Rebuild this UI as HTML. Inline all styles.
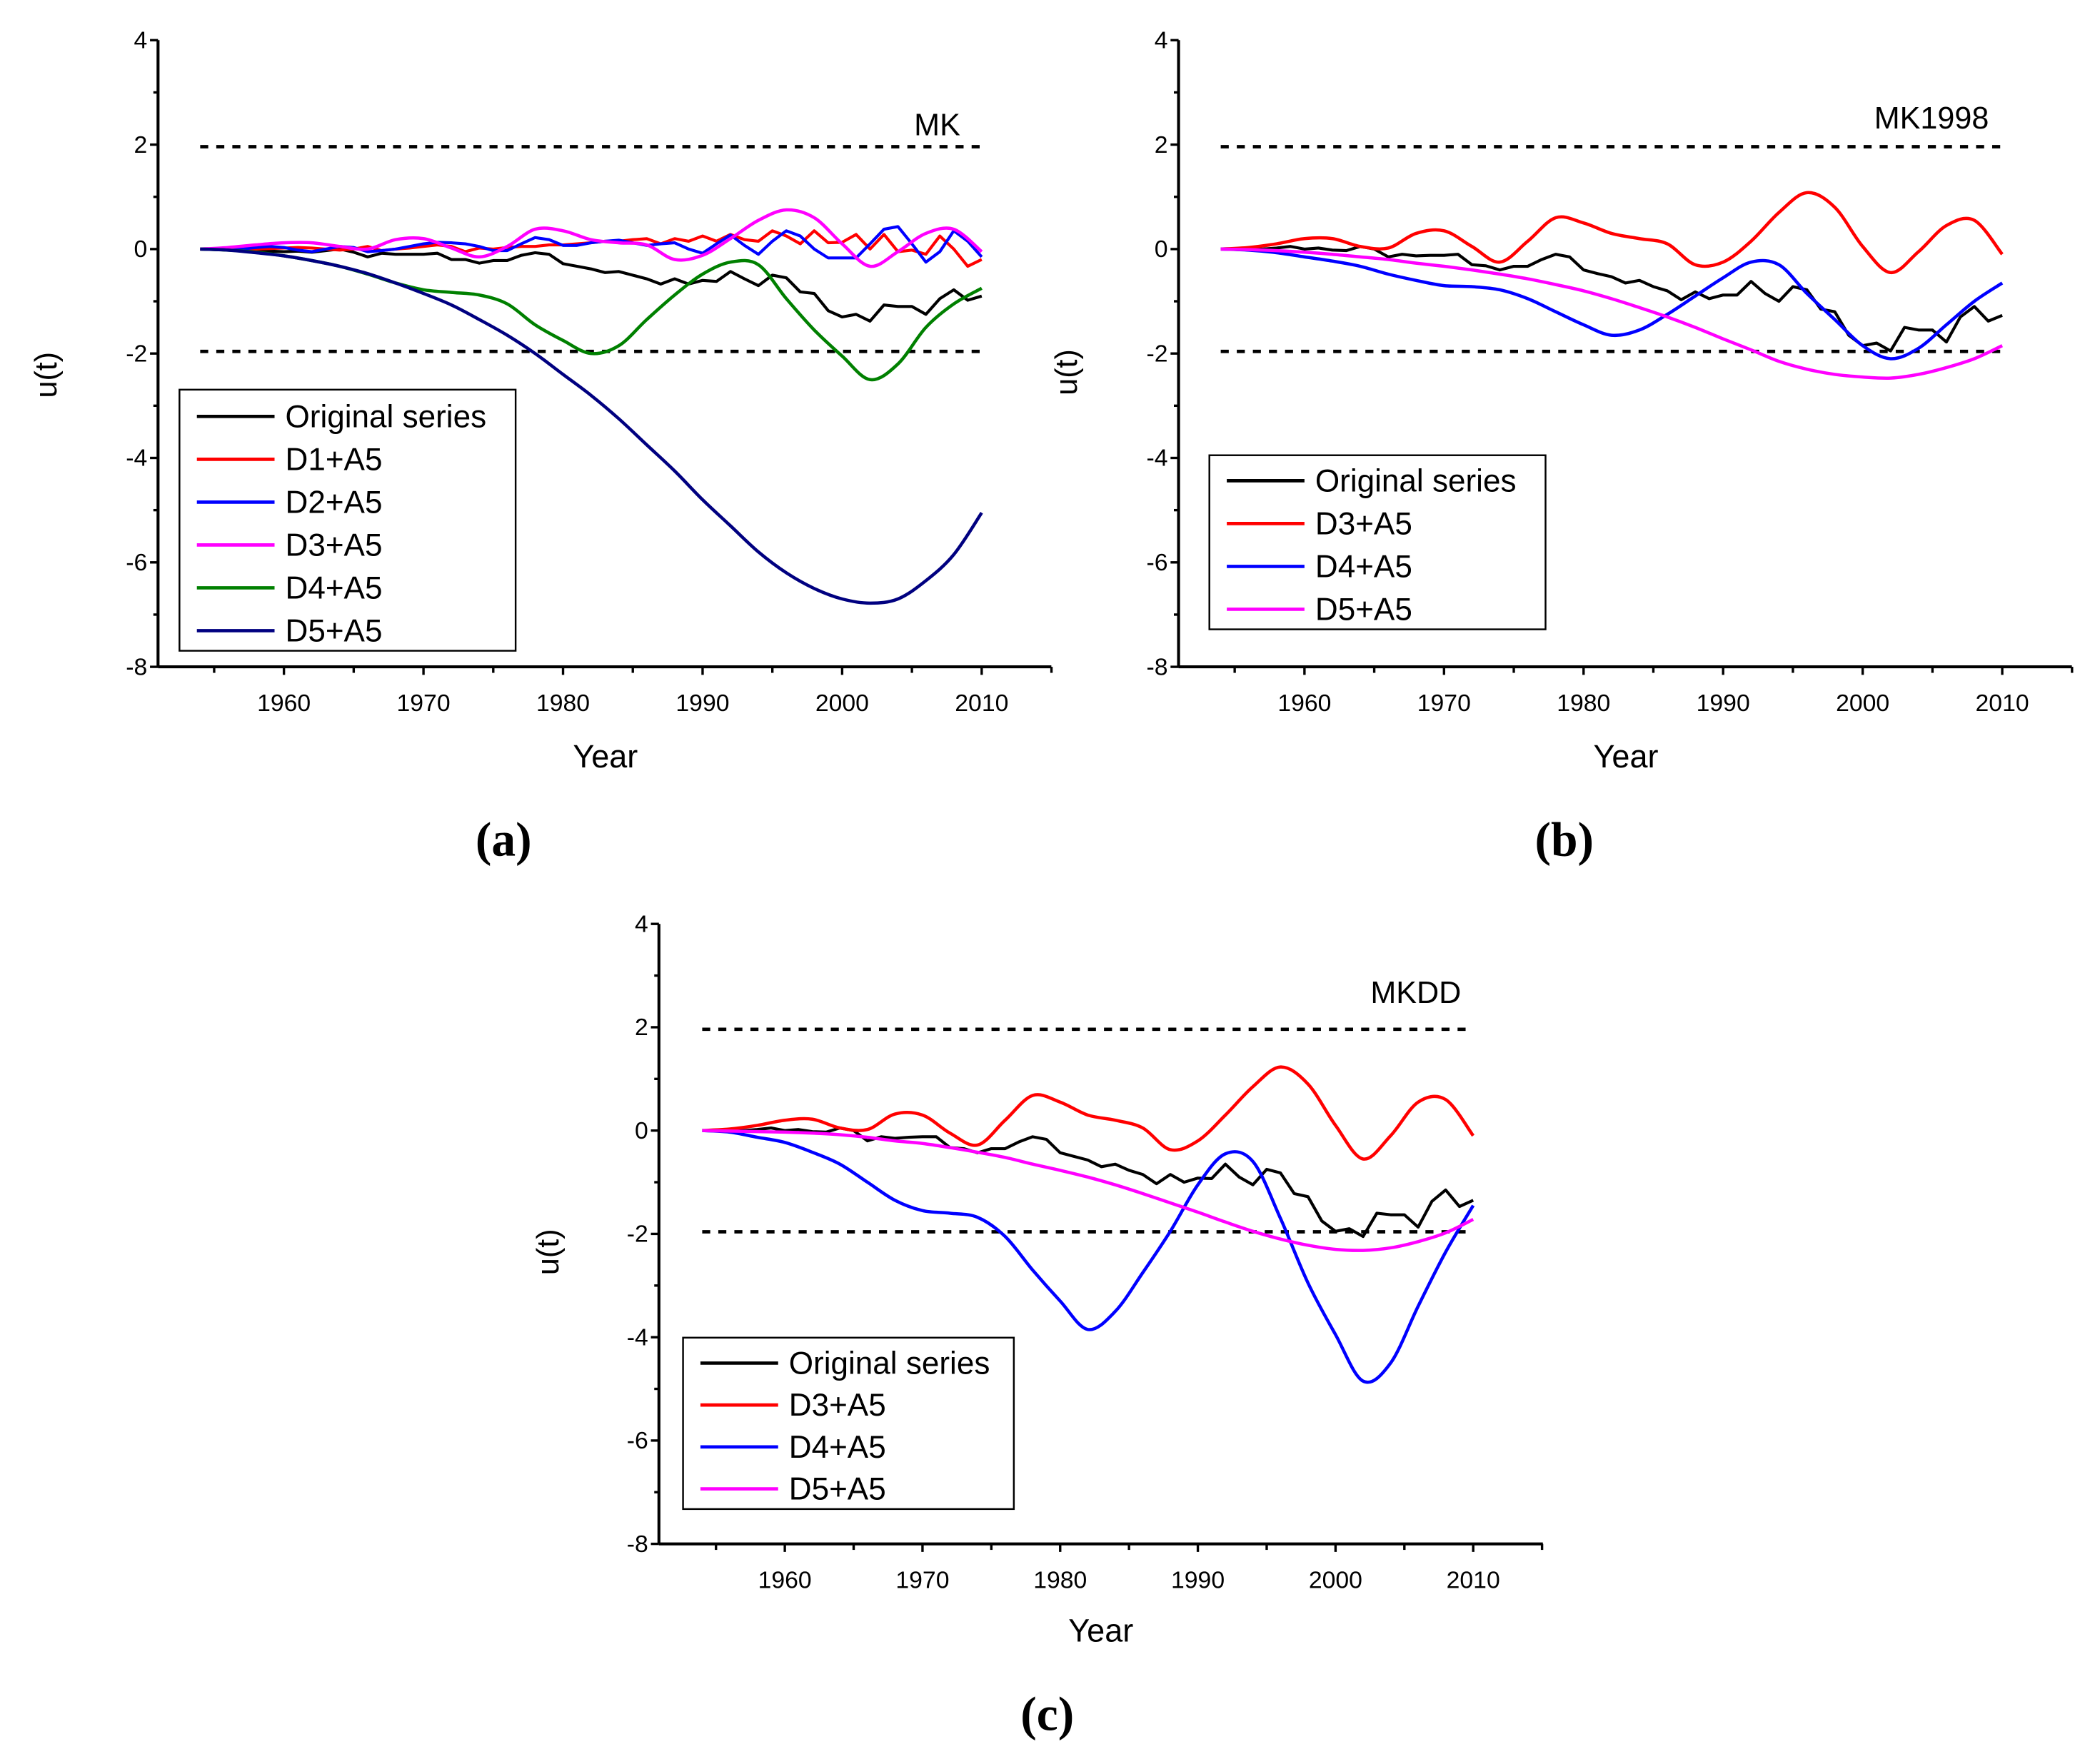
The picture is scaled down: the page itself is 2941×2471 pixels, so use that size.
<!DOCTYPE html>
<html><head><meta charset="utf-8">
<style>
html,body{margin:0;padding:0;background:#fff;}
svg{display:block;}
text{font-family:"Liberation Sans",Arial,sans-serif;fill:#000;}
.cap{font-family:"Liberation Serif","Times New Roman",serif;font-weight:bold;}
</style></head>
<body>
<svg id="fig" xmlns="http://www.w3.org/2000/svg" width="2941" height="2471" viewBox="0 0 1568 1317.4">
<rect x="0" y="0" width="1568" height="1317.4" fill="#fff"/>
</svg>
<script>
// ---- data ----
const yearsAnnual = Array.from({length:57},(_,i)=>1954+i);
const yearsBiannual = Array.from({length:29},(_,i)=>1954+2*i);
const yTicks = [4,2,0,-2,-4,-6,-8];
const xTickLabels = [1960,1970,1980,1990,2000,2010];

const aOriginal = [0,-0.01,-0.02,-0.02,-0.03,-0.04,-0.05,-0.04,-0.06,-0.03,0,-0.06,-0.15,-0.08,-0.1,-0.1,-0.1,-0.08,-0.2,-0.2,-0.27,-0.22,-0.22,-0.12,-0.07,-0.1,-0.28,-0.33,-0.38,-0.45,-0.43,-0.5,-0.57,-0.67,-0.57,-0.67,-0.6,-0.62,-0.43,-0.57,-0.7,-0.5,-0.55,-0.82,-0.85,-1.18,-1.3,-1.25,-1.38,-1.07,-1.1,-1.1,-1.25,-0.95,-0.78,-0.98,-0.9];
const aD1 = [0,0,0,0,0,0.01,0.02,0.03,0.02,0.0,-0.02,0.0,0.05,-0.03,0.0,0.02,0.05,0.08,0.05,-0.05,0.02,0.0,0.03,0.05,0.05,0.08,0.08,0.1,0.12,0.15,0.15,0.18,0.2,0.1,0.2,0.15,0.25,0.15,0.28,0.18,0.15,0.35,0.25,0.1,0.35,0.12,0.13,0.28,0.0,0.28,-0.05,-0.02,-0.1,0.25,0.0,-0.33,-0.2];
const aD2 = [0,0,-0.01,0,0.03,0.05,0.03,-0.02,-0.05,0,0.05,0.03,-0.05,-0.03,0,0.05,0.1,0.13,0.12,0.1,0.05,-0.03,-0.03,0.1,0.22,0.18,0.07,0.07,0.12,0.15,0.17,0.12,0.07,0.1,0.12,0.0,-0.08,0.1,0.27,0.07,-0.1,0.15,0.35,0.25,0.0,-0.17,-0.17,-0.17,0.1,0.38,0.43,0.1,-0.25,-0.05,0.35,0.15,-0.15];
const aD3 = [0,0.03,0.08,0.12,0.12,0.05,0.0,0.18,0.2,0.02,-0.15,0.05,0.38,0.35,0.18,0.12,0.08,-0.2,-0.12,0.2,0.55,0.75,0.6,0.1,-0.33,-0.05,0.3,0.38,-0.05];
const aD4 = [0,-0.02,-0.06,-0.13,-0.22,-0.33,-0.48,-0.65,-0.78,-0.83,-0.88,-1.05,-1.45,-1.75,-2.0,-1.85,-1.35,-0.88,-0.48,-0.25,-0.3,-0.95,-1.55,-2.05,-2.5,-2.2,-1.5,-1.05,-0.75];
const aD5 = [0,-0.02,-0.07,-0.13,-0.22,-0.33,-0.47,-0.65,-0.85,-1.07,-1.35,-1.65,-2.0,-2.4,-2.8,-3.25,-3.75,-4.25,-4.8,-5.3,-5.8,-6.2,-6.5,-6.7,-6.78,-6.7,-6.35,-5.85,-5.05];

const bOriginal = [0,0,0,0,0.02,0.05,0,0.02,-0.02,-0.03,0.05,0,-0.15,-0.1,-0.13,-0.12,-0.12,-0.1,-0.3,-0.32,-0.4,-0.33,-0.33,-0.2,-0.1,-0.15,-0.4,-0.47,-0.53,-0.65,-0.6,-0.72,-0.8,-0.97,-0.82,-0.95,-0.88,-0.88,-0.62,-0.85,-1.0,-0.72,-0.78,-1.15,-1.2,-1.65,-1.85,-1.8,-1.95,-1.5,-1.55,-1.55,-1.78,-1.3,-1.1,-1.38,-1.27];
const bD3 = [0,0.03,0.1,0.2,0.2,0.05,0.02,0.3,0.35,0.05,-0.25,0.15,0.6,0.5,0.3,0.2,0.1,-0.3,-0.25,0.15,0.7,1.08,0.8,0.05,-0.45,-0.05,0.45,0.55,-0.1];
const bD4 = [0,-0.02,-0.07,-0.15,-0.23,-0.33,-0.48,-0.6,-0.7,-0.72,-0.78,-0.95,-1.2,-1.45,-1.65,-1.55,-1.25,-0.9,-0.55,-0.25,-0.3,-0.85,-1.35,-1.85,-2.1,-1.9,-1.45,-1.0,-0.65];
const bD5 = [0,-0.01,-0.03,-0.06,-0.1,-0.15,-0.2,-0.27,-0.33,-0.4,-0.48,-0.57,-0.68,-0.8,-0.95,-1.12,-1.3,-1.5,-1.72,-1.93,-2.15,-2.3,-2.4,-2.45,-2.47,-2.4,-2.27,-2.1,-1.85];

const cOriginal = [0,0,0,0,0.02,0.05,0,0.02,-0.02,-0.03,0.05,0,-0.2,-0.12,-0.15,-0.13,-0.12,-0.12,-0.33,-0.35,-0.43,-0.35,-0.35,-0.22,-0.12,-0.17,-0.43,-0.5,-0.57,-0.7,-0.65,-0.77,-0.85,-1.03,-0.85,-1.0,-0.92,-0.93,-0.65,-0.9,-1.05,-0.75,-0.82,-1.22,-1.28,-1.75,-1.95,-1.9,-2.05,-1.6,-1.63,-1.63,-1.87,-1.37,-1.15,-1.47,-1.35];
const cD3 = [0,0.03,0.1,0.2,0.22,0.05,0.02,0.32,0.3,-0.05,-0.28,0.2,0.68,0.55,0.3,0.2,0.05,-0.37,-0.2,0.3,0.85,1.23,0.9,0.1,-0.55,-0.1,0.55,0.6,-0.1];
const cD4 = [0,-0.03,-0.13,-0.23,-0.42,-0.65,-1.0,-1.35,-1.55,-1.6,-1.68,-2.05,-2.7,-3.3,-3.85,-3.5,-2.75,-1.95,-1.05,-0.45,-0.6,-1.7,-2.95,-3.95,-4.85,-4.5,-3.4,-2.35,-1.45];
const cD5 = [0,-0.01,-0.02,-0.03,-0.05,-0.08,-0.13,-0.2,-0.25,-0.33,-0.42,-0.52,-0.65,-0.77,-0.9,-1.05,-1.22,-1.4,-1.58,-1.77,-1.95,-2.1,-2.22,-2.3,-2.32,-2.27,-2.15,-1.98,-1.72];

const NS='http://www.w3.org/2000/svg';
const svg=document.getElementById('fig');
function el(tag,attrs,parent){const e=document.createElementNS(NS,tag);for(const k in attrs)e.setAttribute(k,attrs[k]);(parent||svg).appendChild(e);return e;}

function smoothPath(P){
  let d='M'+P[0][0].toFixed(2)+','+P[0][1].toFixed(2);
  for(let i=0;i<P.length-1;i++){
    const p0=P[i-1]||P[i],p1=P[i],p2=P[i+1],p3=P[i+2]||P[i+1];
    const c1=[p1[0]+(p2[0]-p0[0])/6,p1[1]+(p2[1]-p0[1])/6];
    const c2=[p2[0]-(p3[0]-p1[0])/6,p2[1]-(p3[1]-p1[1])/6];
    d+=' C'+c1[0].toFixed(2)+','+c1[1].toFixed(2)+' '+c2[0].toFixed(2)+','+c2[1].toFixed(2)+' '+p2[0].toFixed(2)+','+p2[1].toFixed(2);
  }
  return d;
}

function panel(cfg){
  const g=el('g',{});
  
  
  const xs=y=>cfg.ax+(y-1960)*(cfg.x2010-cfg.ax)/50;
  const ys=v=>cfg.y0+( (4-v)/12 )*(cfg.yb-cfg.y0);
  const X0=cfg.yaxis;
  const yAx=el('line',{x1:X0,y1:ys(4),x2:X0,y2:ys(-8),stroke:'#000','stroke-width':2.2},g);
  
  
  const xAx=el('line',{x1:X0,y1:ys(-8),x2:cfg.xend,y2:ys(-8),stroke:'#000','stroke-width':2.2},g);
  
  
  for(let v=-8;v<=4;v++){
    const len=(v%2===0)?6:3.5;
    el('line',{x1:X0-len,y1:ys(v),x2:X0,y2:ys(v),stroke:'#000','stroke-width':1.8},g);
  }
  yTicks.forEach(v=>{
    const t=el('text',{x:X0-8,y:ys(v)+6,'font-size':18,'text-anchor':'end'},g);
    t.textContent=String(v);
    
    
  });
  for(let yr=1955;yr<=2015;yr+=5){
    const len=(yr%10===0)?6:4.5;
    el('line',{x1:xs(yr),y1:ys(-8),x2:xs(yr),y2:ys(-8)+len,stroke:'#000','stroke-width':1.8},g);
  }
  xTickLabels.forEach(yr=>{
    const t=el('text',{x:xs(yr),y:ys(-8)+33,'font-size':18,'text-anchor':'middle'},g);
    t.textContent=String(yr);
    
    
  });
  [1.96,-1.96].forEach(v=>{
    const d=el('line',{x1:xs(1954),y1:ys(v),x2:xs(2010),y2:ys(v),stroke:'#000','stroke-width':2.5,'stroke-dasharray':'6,6'},g);
    
    
  });
  cfg.series.forEach(s=>{
    const P=s.v.map((v,i)=>[xs(s.yrs[i]),ys(v)]);
    let p;
    if(s.yrs.length<40){
      p=el('path',{d:smoothPath(P),fill:'none',stroke:s.c,'stroke-width':2.4,'stroke-linejoin':'round'},g);
    } else {
      p=el('polyline',{points:P.map(q=>q[0].toFixed(2)+','+q[1].toFixed(2)).join(' '),fill:'none',stroke:s.c,'stroke-width':2.2,'stroke-linejoin':'round'},g);
    }
    
    
  });
  const yl=el('text',{x:0,y:0,'font-size':23,'text-anchor':'middle',transform:`translate(${cfg.ulx},${cfg.uly}) rotate(-90)`},g);
  yl.textContent='u(t)';
  
  
  const xl=el('text',{x:cfg.yearx,y:cfg.yeary,'font-size':24,'text-anchor':'middle'},g);
  xl.textContent='Year';
  
  
  const tt=el('text',{x:cfg.tx,y:cfg.ty,'font-size':23,'text-anchor':'end'},g);
  tt.textContent=cfg.title;
  
  
  const lg=el('g',{},g);
  
  
  el('rect',{x:cfg.lx,y:cfg.ly,width:cfg.lw,height:cfg.lh,fill:'#fff',stroke:'#000','stroke-width':1.3},lg);
  cfg.series.forEach((s,i)=>{
    const yy=cfg.ly+cfg.lfirst+i*cfg.lstep;
    const ent=el('g',{},lg);
    
    
    el('line',{x1:cfg.lx+13,y1:yy,x2:cfg.lx+71,y2:yy,stroke:s.c,'stroke-width':2.5},ent);
    const t=el('text',{x:cfg.lx+79,y:yy+8,'font-size':23.5},ent);
    t.textContent=s.label;
  });
  const cap=el('text',{x:cfg.capx,y:cfg.capy,'font-size':36,'text-anchor':'middle',class:'cap'},g);
  cap.textContent=cfg.cap;
  
  
}

panel({name:'panel-a',yaxis:118,ax:212,x2010:733,y0:30,yb:498,xend:785,
  ulx:42,uly:280,yearx:452,yeary:573,tx:717,ty:101,title:'MK',
  lx:134,ly:291,lw:251,lh:195,lfirst:20,lstep:32,capx:376,capy:639,cap:'(a)',
  series:[
   {label:'Original series',c:'#000000',v:aOriginal,yrs:yearsAnnual},
   {label:'D1+A5',c:'#ff0000',v:aD1,yrs:yearsAnnual},
   {label:'D2+A5',c:'#0000ff',v:aD2,yrs:yearsAnnual},
   {label:'D3+A5',c:'#ff00ff',v:aD3,yrs:yearsBiannual},
   {label:'D4+A5',c:'#008000',v:aD4,yrs:yearsBiannual},
   {label:'D5+A5',c:'#000080',v:aD5,yrs:yearsBiannual}]});

panel({name:'panel-b',yaxis:880,ax:974,x2010:1495,y0:30,yb:498,xend:1547,
  ulx:804,uly:278,yearx:1214,yeary:573,tx:1485,ty:96,title:'MK1998',
  lx:903,ly:340,lw:251,lh:130,lfirst:19,lstep:32,capx:1168,capy:639,cap:'(b)',
  series:[
   {label:'Original series',c:'#000000',v:bOriginal,yrs:yearsAnnual},
   {label:'D3+A5',c:'#ff0000',v:bD3,yrs:yearsBiannual},
   {label:'D4+A5',c:'#0000ff',v:bD4,yrs:yearsBiannual},
   {label:'D5+A5',c:'#ff00ff',v:bD5,yrs:yearsBiannual}]});

panel({name:'panel-c',yaxis:492,ax:586,x2010:1100,y0:690,yb:1153,xend:1152,
  ulx:417,uly:935,yearx:822,yeary:1226,tx:1091,ty:749,title:'MKDD',
  lx:510,ly:999,lw:247,lh:128,lfirst:19,lstep:31.3,capx:782,capy:1292,cap:'(c)',
  series:[
   {label:'Original series',c:'#000000',v:cOriginal,yrs:yearsAnnual},
   {label:'D3+A5',c:'#ff0000',v:cD3,yrs:yearsBiannual},
   {label:'D4+A5',c:'#0000ff',v:cD4,yrs:yearsBiannual},
   {label:'D5+A5',c:'#ff00ff',v:cD5,yrs:yearsBiannual}]});
</script>
</body></html>
